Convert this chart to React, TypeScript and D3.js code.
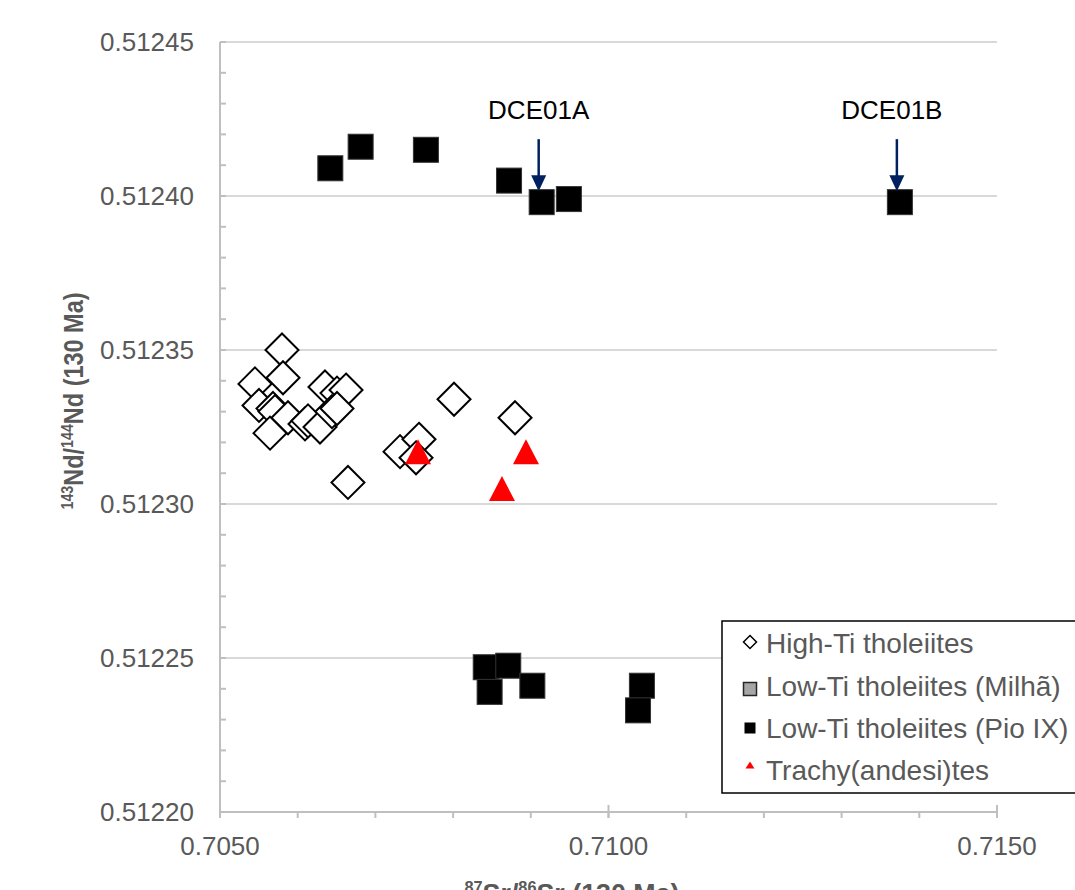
import React from 'react';
import * as d3 from 'd3';

// 87Sr/86Sr (130 Ma) vs 143Nd/144Nd (130 Ma)
const highTi: [number, number][] = [
  [0.705798, 0.51235],
  [0.70545, 0.512339],
  [0.705811, 0.512341],
  [0.706351, 0.512338],
  [0.706506, 0.512336],
  [0.706622, 0.512337],
  [0.705502, 0.512332],
  [0.705682, 0.512331],
  [0.705708, 0.51233],
  [0.705644, 0.512323],
  [0.705875, 0.512328],
  [0.706094, 0.512326],
  [0.706133, 0.512327],
  [0.706287, 0.512325],
  [0.706441, 0.51233],
  [0.706506, 0.512331],
  [0.706647, 0.512307],
  [0.708012, 0.512334],
  [0.708797, 0.512328],
  [0.707317, 0.512317],
  [0.707561, 0.512321],
  [0.707523, 0.512315],
];

const lowTiMilha: [number, number][] = [];

const lowTiPio: [number, number][] = [
  [0.70642, 0.512409],
  [0.70681, 0.512416],
  [0.70765, 0.512415],
  [0.70872, 0.512405],
  [0.70914, 0.512398],
  [0.70949, 0.512399],
  [0.71375, 0.512398],
  [0.70842, 0.512247],
  [0.70871, 0.5122475],
  [0.70847, 0.512239],
  [0.70902, 0.512241],
  [0.71043, 0.512241],
  [0.71038, 0.512233],
];

const trachy: [number, number][] = [
  [0.707548, 0.512317],
  [0.708629, 0.512305],
  [0.708938, 0.512317],
];

const labels = [
  { name: 'DCE01A', sr: 0.70914, nd: 0.512398 },
  { name: 'DCE01B', sr: 0.71375, nd: 0.512398 },
];

const xMajor = [0.705, 0.71, 0.715];
const xMinor = d3.range(0, 11).map(i => 0.705 + i * 0.001);
const yMajor = [0.5122, 0.51225, 0.5123, 0.51235, 0.5124, 0.51245];
const yMinor = d3.range(0, 26).map(i => 0.5122 + i * 0.00001);

const legendItems = [
  'High-Ti tholeiites',
  'Low-Ti tholeiites (Milhã)',
  'Low-Ti tholeiites (Pio IX)',
  'Trachy(andesi)tes',
];

const W = 1075;
const H = 890;
const grey = '#595959';
const axisCol = '#bfbfbf';
const navy = '#002060';
const sans = '"Liberation Sans", Arial, sans-serif';
const narrow = '"Liberation Sans Narrow", "Arial Narrow", "Liberation Sans", Arial, sans-serif';

const x = d3.scaleLinear().domain([0.705, 0.715]).range([220, 997]);
const y = d3.scaleLinear().domain([0.5122, 0.51245]).range([812, 42]);

const diamond = (s: number) => `M0,${-s / 2}L${s / 2},0L0,${s / 2}L${-s / 2},0Z`;
const triangle = (w: number, h: number) => `M0,${-h / 2}L${w / 2},${h / 2}L${-w / 2},${h / 2}Z`;

export default function App() {
  const legendY = [642, 689, 728, 765];
  const legendBase = [653, 695.5, 738, 780];
  return (
    <svg width={W} height={H} style={{ position: 'absolute', left: 0, top: 0, background: '#fff' }}>
      {/* gridlines */}
      {yMajor.slice(1).map(v => (
        <line key={'g' + v} x1={x(0.705)} x2={x(0.715)} y1={y(v)} y2={y(v)} stroke="#d9d9d9" strokeWidth={2} />
      ))}
      {/* y axis */}
      <line x1={x(0.705)} x2={x(0.705)} y1={y(0.51245)} y2={y(0.5122)} stroke={axisCol} strokeWidth={2} />
      {yMinor.map(v => (
        <line key={'ym' + v} x1={x(0.705)} x2={x(0.705) + 6} y1={y(v)} y2={y(v)} stroke={axisCol} strokeWidth={2} />
      ))}
      {yMajor.map(v => (
        <text key={'yl' + v} x={194} y={y(v)} dy="0.35em" textAnchor="end" fontFamily={sans} fontSize={26} fill={grey}>
          {d3.format('.5f')(v)}
        </text>
      ))}
      {/* x axis */}
      <line x1={x(0.705)} x2={x(0.715)} y1={y(0.5122)} y2={y(0.5122)} stroke={axisCol} strokeWidth={2} />
      {xMinor.map(v => (
        <line key={'xm' + v} x1={x(v)} x2={x(v)} y1={y(0.5122)} y2={y(0.5122) + 6} stroke={axisCol} strokeWidth={2} />
      ))}
      {xMajor.map(v => (
        <line key={'xM' + v} x1={x(v)} x2={x(v)} y1={y(0.5122) - 7} y2={y(0.5122) + 6} stroke={axisCol} strokeWidth={2} />
      ))}
      {xMajor.map(v => (
        <text key={'xl' + v} x={x(v)} y={855} textAnchor="middle" fontFamily={sans} fontSize={26} fill={grey}>
          {d3.format('.4f')(v)}
        </text>
      ))}

      {/* series */}
      {highTi.map((d, i) => (
        <path key={'h' + i} d={diamond(33)} transform={`translate(${x(d[0])},${y(d[1])})`} fill="#fff" stroke="#000" strokeWidth={2} />
      ))}
      {lowTiMilha.map((d, i) => (
        <rect key={'m' + i} x={x(d[0]) - 12.5} y={y(d[1]) - 12.5} width={25} height={25} fill="#a6a6a6" stroke="#262626" />
      ))}
      {lowTiPio.map((d, i) => (
        <rect key={'p' + i} x={x(d[0]) - 12.5} y={y(d[1]) - 12.5} width={25} height={25} fill="#000" stroke="#333" strokeWidth={1} />
      ))}
      {trachy.map((d, i) => (
        <path key={'t' + i} d={triangle(26, 25)} transform={`translate(${x(d[0])},${y(d[1])})`} fill="#ff0000" />
      ))}

      {/* annotations */}
      {labels.map(l => {
        const cx = x(l.sr) - 3;
        const top = y(l.nd) - 61;
        return (
          <g key={l.name}>
            <text x={cx - (l.name === 'DCE01B' ? 5 : 0)} y={119} textAnchor="middle" fontFamily={sans} fontSize={26} fill="#000">
              {l.name}
            </text>
            <line x1={cx} x2={cx} y1={top - 2} y2={top + 36} stroke={navy} strokeWidth={2.5} />
            <path d={`M${cx - 7.5},${top + 34}L${cx + 7.5},${top + 34}L${cx},${top + 50}Z`} fill={navy} />
          </g>
        );
      })}

      {/* legend */}
      <rect x={722} y={621} width={370} height={172} fill="#fff" stroke="#000" strokeWidth={1.5} />
      <path d={diamond(13)} transform={`translate(750,${legendY[0]})`} fill="#fff" stroke="#000" strokeWidth={1.5} />
      <rect x={743.5} y={legendY[1] - 6.5} width={13} height={13} fill="#a6a6a6" stroke="#262626" strokeWidth={1.5} />
      <rect x={744.5} y={legendY[2] - 5.5} width={11} height={11} fill="#000" />
      <path d={triangle(9, 7)} transform={`translate(750,${legendY[3]})`} fill="#ff0000" />
      {legendItems.map((t, i) => (
        <text key={t} x={766} y={legendBase[i]} fontFamily={sans} fontSize={28} fill={grey}>
          {t}
        </text>
      ))}

      {/* axis titles */}
      <text
        transform="translate(83,401) rotate(-90)"
        textAnchor="middle"
        fontFamily={narrow}
        fontWeight="bold"
        fontSize={28}
        fill={grey}
        textLength={217}
        lengthAdjust="spacingAndGlyphs"
      >
        <tspan fontSize={17} dy={-10}>143</tspan>
        <tspan dy={10}>Nd/</tspan>
        <tspan fontSize={17} dy={-10}>144</tspan>
        <tspan dy={10}>Nd (130 Ma)</tspan>
      </text>
      <text
        x={572}
        y={903}
        textAnchor="middle"
        fontFamily={narrow}
        fontWeight="bold"
        fontSize={28}
        fill={grey}
        textLength={215}
        lengthAdjust="spacingAndGlyphs"
      >
        <tspan fontSize={17} dy={-10}>87</tspan>
        <tspan dy={10}>Sr/</tspan>
        <tspan fontSize={17} dy={-10}>86</tspan>
        <tspan dy={10}>Sr (130 Ma)</tspan>
      </text>
    </svg>
  );
}
